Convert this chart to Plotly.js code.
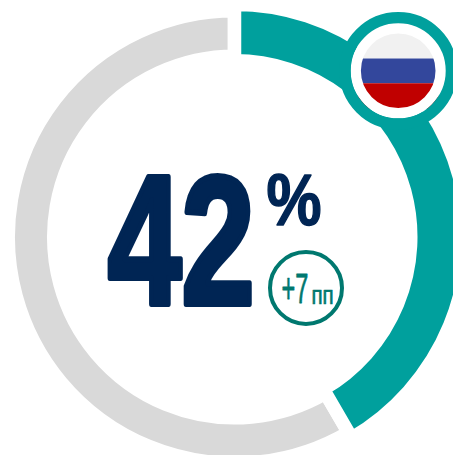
<!DOCTYPE html>
<html><head><meta charset="utf-8">
<script src="https://cdn.plot.ly/plotly-3.0.1.min.js"></script>
<style>html,body{margin:0;padding:0;background:#fff;overflow:hidden;width:453px;height:455px}#c{width:600px;height:600px}</style>
</head><body><div id="c"></div>
<script>
const sliceNames = ['Россия', 'Остальное'];
const shareValues = [41.6, 58.4];
const mainLabel = '42';
const unitLabel = '%';
const changeLabel = '+7';
const changeUnit = 'пп';
const teal = '#00A09D', gray = '#D9D9D9', navy = '#002554', green = '#00786F';
const S = 600, none = 'rgba(0,0,0,0)';
const cx = 234.5, cy = 237;
const fx = p => p / S, fy = p => 1 - p / S;
const dom = r => ({x: [fx(cx - r), fx(cx + r)], y: [fy(cy + r), fy(cy - r)]});
function ring(colors, widths, R, inner) {
  return {type: 'pie', labels: sliceNames, values: shareValues, sort: false, direction: 'clockwise', rotation: 0,
    hole: inner / R, domain: dom(R), textinfo: 'none', hoverinfo: 'skip', showlegend: false,
    marker: {colors: colors, line: {color: '#fff', width: widths}}};
}
const gap = 13.5, g2 = gap / 2;
const traces = [
  ring([none, gray], [0, gap], 219.5 + g2, 187.5 - g2),
  ring([teal, none], [gap, 0], 226 + g2, 183 - g2)
];
const fl = {x: 398.2, y: 70.8, r: 37.3};
function circ(r, fill, lineColor, lw) {
  return {type: 'circle', xref: 'paper', yref: 'paper', x0: fx(fl.x - r), x1: fx(fl.x + r), y0: fy(fl.y + r), y1: fy(fl.y - r),
    fillcolor: fill, line: {color: lineColor, width: lw}};
}
function stripe(y0, y1, c) {
  return {type: 'rect', xref: 'paper', yref: 'paper', x0: fx(fl.x - fl.r - 3), x1: fx(fl.x + fl.r + 3), y0: fy(y1), y1: fy(y0), fillcolor: c, line: {width: 0}};
}
const bc = {x: 306, y: 288, r: 36};
const shapes = [
  circ(47.5, '#fff', none, 0),
  stripe(33, 58.5, '#F1F1F1'), stripe(58.5, 83.3, '#33479C'), stripe(83.3, 109, '#C00000'),
  circ(42.4, none, '#fff', 10.2),
  circ(53.2, none, teal, 11.4),
  {type: 'circle', xref: 'paper', yref: 'paper', x0: fx(bc.x - bc.r), x1: fx(bc.x + bc.r), y0: fy(bc.y + bc.r), y1: fy(bc.y - bc.r), fillcolor: none, line: {color: green, width: 4}}
];
const F = 'Liberation Sans, Arial, sans-serif';
function ann(t, x, y, size, color, weight) {
  return {text: t, xref: 'paper', yref: 'paper', x: fx(x), y: fy(y), xanchor: 'center', yanchor: 'middle', showarrow: false,
    font: {family: F, size: size, color: color, weight: weight}};
}
const annotations = [
  ann(mainLabel, 181.5, 239.5, 184, navy, 700),
  ann(unitLabel, 293.5, 199.5, 72, navy, 700),
  ann(changeLabel, 295, 288, 42, green, 400),
  ann(changeUnit, 322.5, 295.5, 25, green, 400)
];
const squeeze = [0.72, 0.86, 0.56, 0.82];
const thicken = [6, 1.5, 0.8, 0.7];
const gd = document.getElementById('c');
Plotly.newPlot(gd, traces, {width: S, height: S, margin: {l: 0, r: 0, t: 0, b: 0}, paper_bgcolor: '#fff', plot_bgcolor: '#fff', shapes: shapes, annotations: annotations, showlegend: false}, {displayModeBar: false, staticPlot: true}).then(() => {
  gd.querySelectorAll('.annotation text').forEach((t, i) => {
    const b = t.getBBox(), m = b.x + b.width / 2;
    t.setAttribute('transform', `translate(${m} 0) scale(${squeeze[i]} 1) translate(${-m} 0)`);
    t.style.stroke = annotations[i].font.color;
    t.style.strokeWidth = thicken[i] + 'px';
    t.style.strokeLinejoin = 'round';
  });
});
</script></body></html>
